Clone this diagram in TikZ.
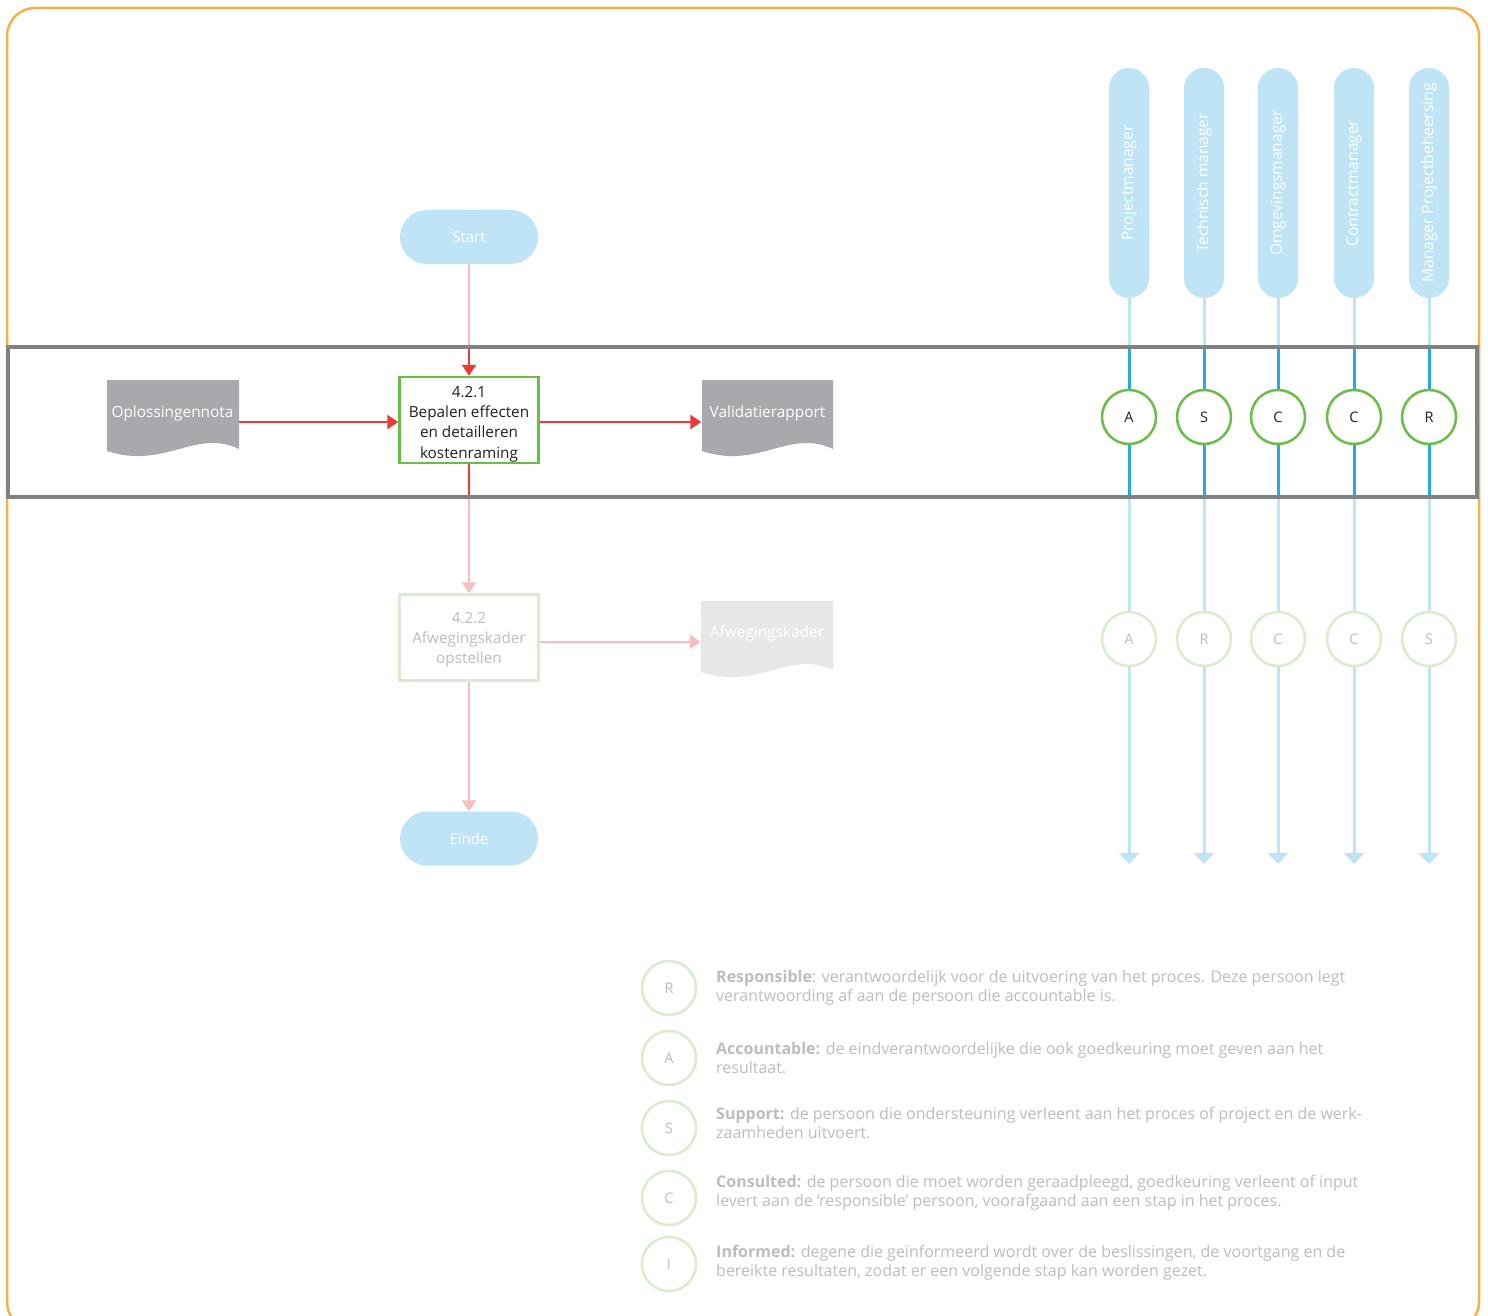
\documentclass[tikz,border=0pt]{standalone}
\usepackage{fontspec}
\setmainfont{Open Sans}
\usetikzlibrary{arrows.meta,backgrounds}
\definecolor{frameor}{HTML}{F6B146}
\definecolor{bandgray}{HTML}{808184}
\definecolor{paleblue}{HTML}{BEE4F6}
\definecolor{strongblue}{HTML}{27AAE1}
\definecolor{rgreen}{HTML}{6ABD45}
\definecolor{palegreen}{HTML}{D7EDCD}
\definecolor{rred}{HTML}{EA3B3B}
\definecolor{pink}{HTML}{F7BEBE}
\definecolor{docgray}{HTML}{A7A9AC}
\definecolor{docpale}{HTML}{E6E7E8}
\definecolor{txtgray}{HTML}{BBBDBF}
\definecolor{txtdark}{HTML}{231F20}
\newcommand\lowtext[2]{\raisebox{-#1}[\height][\depth]{\begin{tabular}{@{}c@{}}#2\end{tabular}}}
\begin{document}
\begin{tikzpicture}[x=1pt,y=-1pt,
  every node/.style={font=\fontsize{14.5}{20}\selectfont, inner sep=0pt},
  pill/.style={fill=paleblue, text=white, rounded corners=27pt, minimum width=138pt, minimum height=54pt, font=\fontsize{15}{20}\selectfont},
  rolepill/.style={fill=paleblue, text=white, rounded corners=20pt, minimum width=230pt, minimum height=40pt, rotate=90, font=\fontsize{15.5}{20}\selectfont},
  procbox/.style={draw=rgreen, line width=2.5pt, fill=white, text=txtdark, align=center, minimum width=139pt, minimum height=86pt, font=\fontsize{15.3}{20.3}\selectfont},
  procpale/.style={draw=palegreen, line width=2.5pt, fill=white, text=txtgray, align=center, minimum width=139pt, minimum height=86pt, font=\fontsize{15.3}{20}\selectfont},
  doctext/.style={text=white, minimum width=132pt, minimum height=20pt, font=\fontsize{15.4}{20}\selectfont},
  raci/.style={circle, draw=rgreen, line width=2.5pt, fill=white, text=txtdark, minimum size=54pt},
  racipale/.style={circle, draw=palegreen, line width=2.5pt, fill=white, text=txtgray, minimum size=54pt},
  redarrow/.style={draw=rred, line width=2.5pt, -{Triangle[width=14pt,length=11pt]}},
  redline/.style={draw=rred, line width=2.5pt},
  pinkarrow/.style={draw=pink, line width=2.5pt, -{Triangle[width=14pt,length=11pt]}},
  pinkline/.style={draw=pink, line width=2.5pt},
  bluepale/.style={draw=paleblue, line width=3pt},
  bluepalearrow/.style={draw=paleblue, line width=3pt, -{Triangle[width=20pt,length=11pt]}},
  bluestrong/.style={draw=strongblue, line width=3pt},
  legendtext/.style={anchor=west, align=left, text=txtgray, font=\fontsize{16}{19}\selectfont}
]
\useasboundingbox (0,0) rectangle (1488,1316);
\fill[white] (0,0) rectangle (1488,1316);
\begin{scope}
\clip (0,0) rectangle (1488,1316);
\draw[frameor, line width=2.5pt, rounded corners=28pt] (7,8) rectangle (1479,1330);
\end{scope}

% document shapes
\fill[docgray] (107,380) -- (239,380) -- (239,449) .. controls (195,428) and (165,470) .. (107,451) -- cycle;
\fill[docgray] (702,380) -- (833,380) -- (833,449) .. controls (789,428) and (759,470) .. (702,451) -- cycle;
\fill[docpale] (701,601) -- (833,601) -- (833,670) .. controls (789,649) and (759,691) .. (701,672) -- cycle;

% flow nodes
\node[pill] (start) at (469,237) {Start};
\node[pill] (einde) at (469,838.5) {Einde};
\node[procbox] (p421) at (469,420) {\lowtext{3.5pt}{4.2.1\\Bepalen effecten\\en detailleren\\kostenraming}};
\node[procpale] (p422) at (469,637.5) {\lowtext{1.5pt}{4.2.2\\Afwegingskader\\opstellen}};
\node[doctext] (oplos) at (172.5,413) {Oplossingennota};
\node[doctext] (valid) at (767.5,413) {Validatierapport};
\node[doctext] (afweg) at (767,633) {Afwegingskader};

\coordinate (sIn) at (469,347);
\coordinate (sOut) at (469,497);
\draw[pinkline] (start.south) -- (sIn);
\draw[redarrow] (sIn) -- (p421.north);
\draw[redline] (p421.south) -- (sOut);
\draw[pinkarrow] (sOut) -- (p422.north);
\draw[pinkarrow] (p422.south) -- (einde.north);
\draw[redarrow] (oplos.east |- 0,422) -- (p421.west |- 0,422);
\draw[redarrow] (p421.east |- 0,422) -- (valid.west |- 0,422);
\draw[pinkarrow] (p422.east |- 0,642) -- (afweg.west |- 0,642);

% role columns
\foreach \i/\x/\role/\top/\bot in {1/1129/Projectmanager/A/A, 2/1204/Technisch manager/S/R, 3/1278/Omgevingsmanager/C/C, 4/1354/Contractmanager/C/C, 5/1429/Manager Projectbeheersing/R/S}{
  \node[rolepill] (role\i) at (\x,183) {\role};
  \node[raci] (ra\i) at (\x,417) {\top};
  \node[racipale] (rb\i) at (\x,639) {\bot};
  \coordinate (in\i) at (\x,347);
  \coordinate (out\i) at (\x,497);
  \coordinate (end\i) at (\x,864);
  \draw[bluepale] (role\i.west) -- (in\i);
  \draw[bluestrong] (in\i) -- (ra\i.north);
  \draw[bluestrong] (ra\i.south) -- (out\i);
  \draw[bluepale] (out\i) -- (rb\i.north);
  \draw[bluepalearrow] (rb\i.south) -- (end\i);
}

% band
\draw[bandgray, line width=3.5pt] (8,347) rectangle (1477,497);

% legend
\node[racipale] (lR) at (669,988) {R};
\node[racipale] (lA) at (669,1058) {A};
\node[racipale] (lS) at (669,1128) {S};
\node[racipale] (lC) at (669,1198) {C};
\node[racipale] (lI) at (669,1264) {I};
\node[legendtext] (tR) at (716,987.5) {\textbf{Responsible}: verantwoordelijk voor de uitvoering van het proces. Deze persoon legt\\verantwoording af aan de persoon die accountable is.};
\node[legendtext] (tA) at (716,1058.5) {\textbf{Accountable:} de eindverantwoordelijke die ook goedkeuring moet geven aan het\\resultaat.};
\node[legendtext] (tS) at (716,1122.5) {\textbf{Support:} de persoon die ondersteuning verleent aan het proces of project en de werk-\\zaamheden uitvoert.};
\node[legendtext] (tC) at (716,1192.5) {\textbf{Consulted:} de persoon die moet worden geraadpleegd, goedkeuring verleent of input\\levert aan de ‘responsible’ persoon, voorafgaand aan een stap in het proces.};
\node[legendtext] (tI) at (716,1262.5) {\textbf{Informed:} degene die geïnformeerd wordt over de beslissingen, de voortgang en de\\bereikte resultaten, zodat er een volgende stap kan worden gezet.};
\end{tikzpicture}
\end{document}
